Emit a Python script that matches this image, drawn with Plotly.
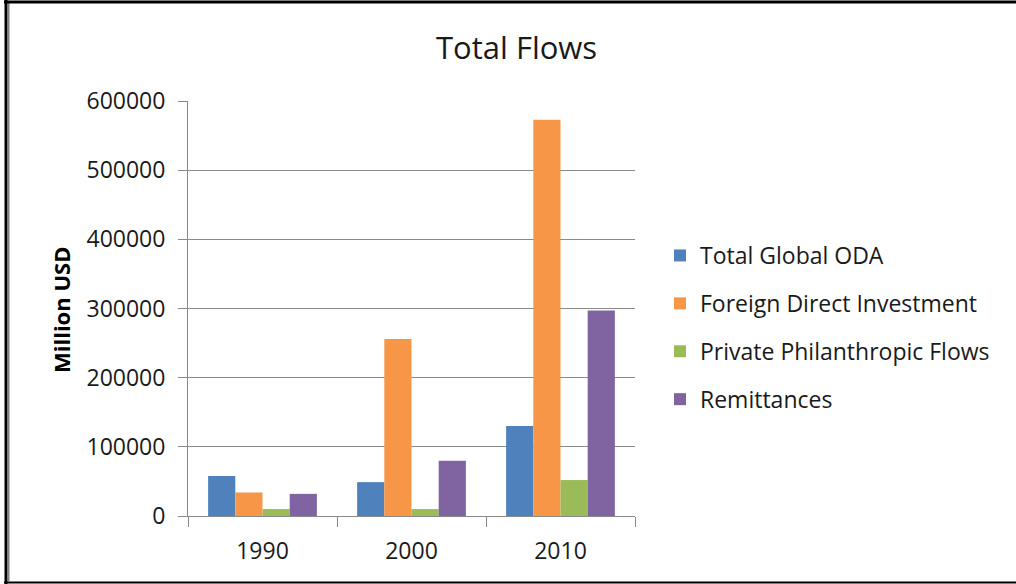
import plotly.graph_objects as go

# Flows by year, million USD
years = ["1990", "2000", "2010"]
oda = [58000, 49000, 130000]
fdi = [34000, 256000, 573000]
philanthropy = [10000, 10000, 52000]
remittances = [32000, 80000, 297000]

series_names = [
    "Total Global ODA",
    "Foreign Direct Investment",
    "Private Philanthropic Flows",
    "Remittances",
]
series_values = [oda, fdi, philanthropy, remittances]
series_colors = ["#4F81BD", "#F79646", "#9BBB59", "#8064A2"]

y_ticks = [0, 100000, 200000, 300000, 400000, 500000, 600000]

W, H = 1016, 584
L, R, T, B = 188, 381, 101, 68
PW, PH = W - L - R, H - T - B


def px_x(px):
    return (px - L) / PW


def px_y(py):
    return 1 - (py - T) / PH


FONT = "Open Sans"
GRID = "#8A8A8A"
TEXT = "#1a1a1a"

fig = go.Figure()
for i, (name, vals, col) in enumerate(zip(series_names, series_values, series_colors)):
    fig.add_trace(go.Bar(
        x=years, y=vals, name=name,
        marker=dict(color=col, line=dict(width=0)),
        legendgroup=f"g{i}",
    ))

fig.update_layout(
    width=W, height=H,
    margin=dict(l=L, r=R, t=T, b=B),
    paper_bgcolor="white", plot_bgcolor="white",
    barmode="group", bargap=0.27, bargroupgap=0,
    font=dict(family=FONT, color=TEXT),
    showlegend=True,
    legend=dict(
        x=px_x(660), y=px_y(234), xanchor="left", yanchor="top",
        font=dict(family=FONT, size=23, color=TEXT),
        tracegroupgap=15, bgcolor="rgba(0,0,0,0)",
    ),
    xaxis=dict(
        type="category", tickson="boundaries",
        showline=True, linecolor=GRID, linewidth=1,
        ticks="outside", ticklen=10, tickcolor=GRID, tickwidth=1,
        tickfont=dict(family=FONT, size=23, color=TEXT),
        ticklabelstandoff=14,
        showgrid=False, zeroline=False,
    ),
    yaxis=dict(
        range=[0, 600000], tickvals=y_ticks,
        ticktext=[str(v) for v in y_ticks],
        showline=True, linecolor=GRID, linewidth=1,
        ticks="outside", ticklen=9, tickcolor=GRID, tickwidth=1,
        tickfont=dict(family=FONT, size=23, color=TEXT),
        ticklabelstandoff=8,
        showgrid=True, gridcolor=GRID, gridwidth=1,
        zeroline=False,
    ),
    annotations=[
        dict(text="Total Flows", x=px_x(516), y=px_y(47), xref="paper", yref="paper",
             xanchor="center", yanchor="middle", showarrow=False,
             font=dict(family=FONT, size=31, color=TEXT)),
        dict(text="<b>Million USD</b>", x=px_x(61), y=px_y(310), xref="paper", yref="paper",
             xanchor="center", yanchor="middle", showarrow=False, textangle=-90,
             font=dict(family=FONT, size=22, color="#000000")),
    ],
    shapes=[
        # outer frame
        dict(type="line", xref="paper", yref="paper", x0=px_x(6), x1=px_x(6),
             y0=px_y(0), y1=px_y(584), line=dict(color="black", width=3)),
        dict(type="line", xref="paper", yref="paper", x0=px_x(8.5), x1=px_x(8.5),
             y0=px_y(3), y1=px_y(581), line=dict(color="#808080", width=2)),
        dict(type="line", xref="paper", yref="paper", x0=px_x(4), x1=px_x(1016),
             y0=px_y(2), y1=px_y(2), line=dict(color="black", width=3)),
        dict(type="line", xref="paper", yref="paper", x0=px_x(4), x1=px_x(1016),
             y0=px_y(582.5), y1=px_y(582.5), line=dict(color="black", width=2)),
    ],
)

fig.write_html("out.html")
